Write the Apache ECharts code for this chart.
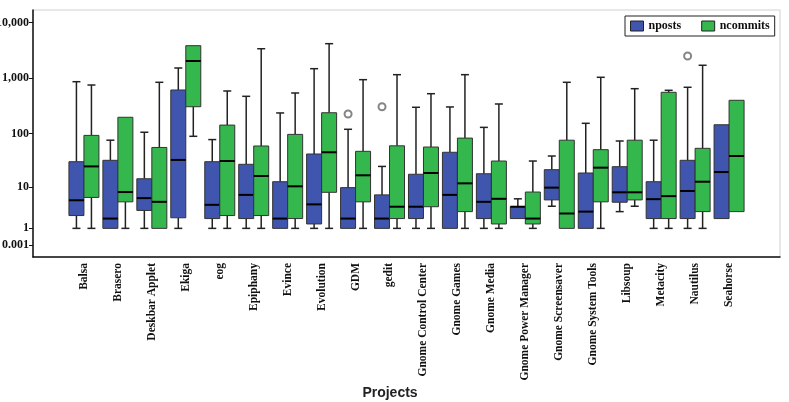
<!DOCTYPE html>
<html>
<head>
<meta charset="utf-8">
<script src="https://cdn.jsdelivr.net/npm/echarts@6/dist/echarts.min.js"></script>
<style>
  html, body { margin: 0; padding: 0; background: #fff; }
  #main { width: 789px; height: 402px; }
</style>
</head>
<body>
<div id="main"></div>
<script>
const projects = [
  "Balsa", "Brasero", "Deskbar Applet", "Ekiga", "eog", "Epiphany", "Evince",
  "Evolution", "GDM", "gedit", "Gnome Control Center", "Gnome Games", "Gnome Media",
  "Gnome Power Manager", "Gnome Screensaver", "Gnome System Tools", "Libsoup",
  "Metacity", "Nautilus", "Seahorse"
];
// [min, q1, median, q3, max]
const nposts = [
  [1, 2.4, 5.4, 30.6, 867],
  [1, 1, 2, 32.5, 76],
  [1, 3.2, 6, 14.6, 106],
  [1, 2.1, 33, 615, 1530],
  [1, 2, 4.3, 30.6, 78],
  [1, 2, 7, 27.4, 473],
  [1, 1, 2, 12.8, 237],
  [1, 1.4, 4.4, 42.5, 1487],
  [1, 1, 2, 9.8, 120],
  [1, 1, 2, 7, 25],
  [1, 2, 3.9, 17.8, 300],
  [1, 1, 7, 45.7, 304],
  [1, 2, 5, 18.2, 130],
  [2, 2, 3.9, 3.9, 5.8],
  [4, 5.5, 9.8, 21.7, 39],
  [1, 1, 3, 18.8, 154],
  [3, 4.9, 7.9, 24.7, 73.5],
  [1, 2, 5.7, 12.8, 76],
  [1, 2, 8.4, 32.5, 688],
  [2, 2, 19.6, 145, 145]
];
const ncommits = [
  [1, 6.2, 25, 93, 756],
  [1, 5, 8, 198, 198],
  [1, 1, 5, 56, 846],
  [89.5, 307, 2046, 3856, 3856],
  [1, 2.4, 31.5, 143, 590],
  [1, 2.4, 16.5, 59.6, 3400],
  [1, 2, 10.4, 97, 543],
  [1, 7.9, 45.7, 239, 4190],
  [1, 5, 17, 47.6, 943],
  [1, 2, 3.9, 60, 1160],
  [1, 3.9, 18.8, 57, 527],
  [1, 3, 11.9, 83, 1160],
  [1, 1.4, 5.8, 31.5, 344],
  [1, 1.4, 2, 8, 31.5],
  [1, 1, 2.7, 76, 846],
  [1, 5, 23.7, 51, 1041],
  [4, 5.5, 7.9, 76, 649],
  [1, 2, 6.6, 559, 607],
  [1, 3, 12.8, 54, 1713],
  [3, 3, 39, 401, 401]
];
// [project index, value]
const npostsOutliers = [[8, 227], [9, 307], [18, 2517]];
const yTicks = [0.001, 1, 10, 100, 1000, 10000];
const yTickLabels = ["0.001", "1", "10", "100", "1,000", "10,000"];

const blue = "#3f55ae";
const green = "#34b84e";

// axis is drawn on log10(x + 1)
const tf = v => Math.log10(v + 1);

const chart = echarts.init(document.getElementById("main"));

function boxRenderer(offset, color) {
  return function (params, api) {
    const x = api.value(0);
    const pts = [1, 2, 3, 4, 5].map(d => api.coord([x, api.value(d)]));
    const cx = pts[0][0] + offset;
    const half = 7.5, cap = 4;
    const yMin = pts[0][1], yQ1 = pts[1][1], yMed = pts[2][1], yQ3 = pts[3][1], yMax = pts[4][1];
    const wStyle = { stroke: "#222", lineWidth: 1.5 };
    const kids = [];
    if (yMax < yQ3 - 0.5) {
      kids.push({ type: "line", shape: { x1: cx, y1: yMax, x2: cx, y2: yQ3 }, style: wStyle });
      kids.push({ type: "line", shape: { x1: cx - cap, y1: yMax, x2: cx + cap, y2: yMax }, style: wStyle });
    }
    if (yMin > yQ1 + 0.5) {
      kids.push({ type: "line", shape: { x1: cx, y1: yQ1, x2: cx, y2: yMin }, style: wStyle });
      kids.push({ type: "line", shape: { x1: cx - cap, y1: yMin, x2: cx + cap, y2: yMin }, style: wStyle });
    }
    kids.push({
      type: "rect",
      shape: { x: cx - half, y: yQ3, width: half * 2, height: yQ1 - yQ3 },
      style: { fill: color, stroke: "#333", lineWidth: 1 }
    });
    kids.push({
      type: "line",
      shape: { x1: cx - half, y1: yMed, x2: cx + half, y2: yMed },
      style: { stroke: "#000", lineWidth: 2 }
    });
    return { type: "group", children: kids };
  };
}

const toRows = arr => arr.map((r, i) => [i + 1].concat(r.map(tf)));
const serifBold = { fontFamily: "Liberation Serif", fontWeight: "bold", color: "#111" };

const option = {
  animation: false,
  grid: {
    left: 33, right: 9, top: 10, bottom: 145,
    outerBoundsMode: "none",
    containLabel: false,
    show: true, borderColor: "#d0d0d0", borderWidth: 1
  },
  legend: {
    data: ["nposts", "ncommits"],
    left: 625, top: 16,
    padding: [4, 5],
    borderColor: "#222", borderWidth: 1,
    icon: "rect", itemWidth: 13, itemHeight: 10, itemGap: 20,
    itemStyle: { borderColor: "#222", borderWidth: 1 },
    textStyle: Object.assign({ fontSize: 12 }, serifBold)
  },
  xAxis: {
    type: "category",
    data: [""].concat(projects, [""]),
    boundaryGap: true,
    axisLine: { onZero: false, lineStyle: { color: "#111", width: 1.5 } },
    axisTick: {
      alignWithLabel: true,
      interval: idx => idx > 0 && idx <= projects.length,
      length: 4,
      lineStyle: { color: "#111" }
    },
    axisLabel: Object.assign({ interval: 0, rotate: 90, fontSize: 11.5, margin: 6 }, serifBold),
    splitLine: { show: false }
  },
  yAxis: {
    type: "value",
    min: -0.214, max: 4.228,
    axisLine: { show: true, lineStyle: { color: "#111", width: 1.5 } },
    axisTick: { show: true, length: 4, customValues: yTicks.map(tf), lineStyle: { color: "#111" } },
    axisLabel: Object.assign({
      fontSize: 12, margin: 4,
      customValues: yTicks.map(tf),
      formatter: v => {
        let best = 0;
        yTicks.forEach((t, i) => { if (Math.abs(tf(t) - v) < Math.abs(tf(yTicks[best]) - v)) best = i; });
        return yTickLabels[best];
      }
    }, serifBold),
    splitLine: { show: false }
  },
  graphic: [{
    type: "text", x: 390, y: 393,
    style: {
      text: "Projects", fontFamily: "Liberation Sans", fontWeight: "bold", fontSize: 14,
      fill: "#222", align: "center", verticalAlign: "middle"
    }
  }],
  series: [
    {
      name: "nposts", type: "custom",
      itemStyle: { color: blue },
      renderItem: boxRenderer(-7.5, blue),
      encode: { x: 0, y: [1, 2, 3, 4, 5] },
      data: toRows(nposts)
    },
    {
      name: "ncommits", type: "custom",
      itemStyle: { color: green },
      renderItem: boxRenderer(7.5, green),
      encode: { x: 0, y: [1, 2, 3, 4, 5] },
      data: toRows(ncommits)
    },
    {
      name: "outliers", type: "scatter",
      symbol: "emptyCircle", symbolSize: 7, symbolOffset: [-7.5, 0],
      itemStyle: { color: "#666", borderWidth: 1 },
      data: npostsOutliers.map(o => [o[0] + 1, tf(o[1])])
    }
  ]
};
chart.setOption(option);
</script>
</body>
</html>
